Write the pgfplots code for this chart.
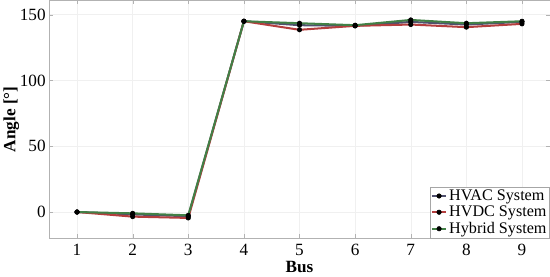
\documentclass[border=0pt]{standalone}
\usepackage{fontspec}
\setmainfont{Liberation Serif}
\usepackage{pgfplots}
\pgfplotsset{compat=1.18}
\definecolor{hvac}{RGB}{80,80,110}
\definecolor{hvdc}{RGB}{180,62,62}
\definecolor{hybrid}{RGB}{66,128,70}
\begin{document}
\begin{tikzpicture}[x=1bp,y=1bp]
\begin{axis}[
    scale only axis,
    width=494bp, height=235bp,
    xmin=0.5, xmax=9.5,
    ymin=-20, ymax=161,
    xtick={1,...,9},
    ytick={0,50,100,150},
    xlabel={\textbf{Bus}},
    ylabel={\textbf{Angle [°]}},
    font=\fontsize{17}{19}\selectfont,
    /pgf/number format/assume math mode=true,
    ticklabel style={font=\fontsize{17}{19}\selectfont},
    label style={font=\fontsize{17}{19}\selectfont},
    xlabel style={yshift=1bp},
    ylabel style={yshift=-6bp},
    xticklabel style={yshift=-2bp},
    axis line style={gray!60},
    tick style={gray!60},
    tick align=inside,
    major tick length=4bp,
    grid=major,
    grid style={gray!12},
    legend style={at={(1,0)}, anchor=south east, font=\fontsize{16}{17}\selectfont,
        draw=gray!70, inner sep=1bp, row sep=0bp, cells={anchor=west}},
    legend image code/.code={
        \draw[mark repeat=2, mark phase=2, #1] plot coordinates {(0bp,0bp) (7bp,0bp) (14bp,0bp)};},
    every axis plot/.append style={line width=2pt, mark=*, mark size=2.2pt,
        mark options={fill=black, draw=black, line width=0.6pt}},
]
\addplot[color=hvac] coordinates {
    (1,0) (2,-1.8) (3,-3.2) (4,145) (5,142) (6,141.5) (7,144.5) (8,142.5) (9,144.5)
};
\addplot[color=hvdc] coordinates {
    (1,0) (2,-3.5) (3,-4.5) (4,145) (5,138.5) (6,141.5) (7,142.5) (8,140.5) (9,143)
};
\addplot[color=hybrid] coordinates {
    (1,0) (2,-1) (3,-2.5) (4,145) (5,143.5) (6,142) (7,146) (8,143.5) (9,145)
};
\legend{HVAC System, HVDC System, Hybrid System}
\end{axis}
\end{tikzpicture}
\end{document}
